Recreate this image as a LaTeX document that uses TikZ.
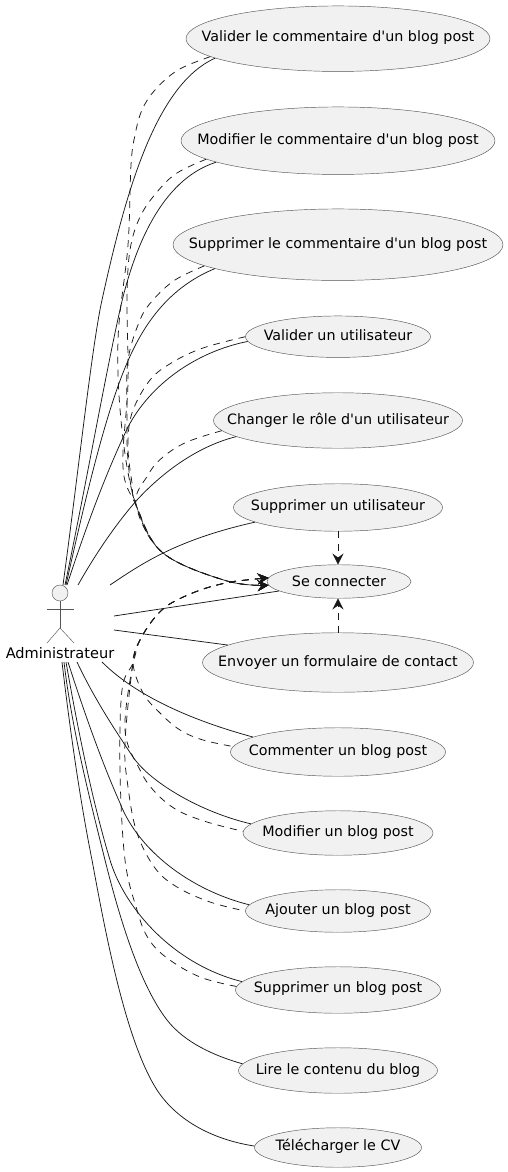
\documentclass[tikz,border=0pt]{standalone}
\usepackage{fontspec}
\newfontfamily\dv{DejaVu Sans}
\usetikzlibrary{shapes.geometric,arrows.meta}
\definecolor{ink}{HTML}{181818}
\definecolor{thin}{HTML}{555555}
\definecolor{uc}{HTML}{F1F1F1}
\tikzset{
  usecase/.style={ellipse,draw=thin,line width=.45pt,fill=uc,inner sep=0pt,font=\dv\fontsize{14.3}{16}\selectfont},
  assoc/.style={draw=ink,line width=.75pt},
  dep/.style={draw=ink,line width=.75pt,dash pattern=on 7pt off 6pt},
  inc/.style={dep,-{Stealth[length=11pt,width=11pt,inset=4pt]}},
  incback/.style={dep,{Stealth[length=11pt,width=11pt,inset=4pt]}-},
  sm/.style={smooth,tension=.6},
  stick/.style={draw=thin,line width=.45pt}
}
% #1 = distance of the baseline below the ellipse centre
\newcommand{\uctext}[2]{\smash{\raisebox{-#1pt}{\makebox[0pt][c]{#2}}}}
\begin{document}
\begin{tikzpicture}[x=1pt,y=-1pt]
\useasboundingbox (0,0) rectangle (508,1172);
\node[usecase,minimum width=304pt,minimum height=65.5pt] (vc) at (338,38.7) {\uctext{3.3}{Valider le commentaire d'un blog post}};
\node[usecase,minimum width=314pt,minimum height=67.5pt] (mc) at (338,140.7) {\uctext{3.3}{Modifier le commentaire d'un blog post}};
\node[usecase,minimum width=330pt,minimum height=71.5pt] (sc) at (338,244.7) {\uctext{3.3}{Supprimer le commentaire d'un blog post}};
\node[usecase,minimum width=185pt,minimum height=41.5pt] (vu) at (338,336.7) {\uctext{3.3}{Valider un utilisateur}};
\node[usecase,minimum width=249pt,minimum height=55.5pt] (cr) at (338,420.5) {\uctext{3.5}{Changer le rôle d'un utilisateur}};
\node[usecase,minimum width=209pt,minimum height=47.5pt] (su) at (338,507.5) {\uctext{2.5}{Supprimer un utilisateur}};
\node[usecase,minimum width=144pt,minimum height=33.5pt] (co) at (339,581.5) {\uctext{5}{Se connecter}};
\node[usecase,minimum width=271pt,minimum height=59.5pt] (ev) at (338,662.5) {\uctext{3.5}{Envoyer un formulaire de contact}};
\node[usecase,minimum width=215pt,minimum height=48.5pt] (cb) at (338,752) {\uctext{3}{Commenter un blog post}};
\node[usecase,minimum width=190pt,minimum height=44.5pt] (mb) at (338,833) {\uctext{3}{Modifier un blog post}};
\node[usecase,minimum width=185pt,minimum height=42.5pt] (ab) at (338,911) {\uctext{3}{Ajouter un blog post}};
\node[usecase,minimum width=205pt,minimum height=46.5pt] (sb) at (338,990) {\uctext{2.7}{Supprimer un blog post}};
\node[usecase,minimum width=199pt,minimum height=45.5pt] (lb) at (338,1070.5) {\uctext{3.5}{Lire le contenu du blog}};
\node[usecase,minimum width=167pt,minimum height=39.5pt] (tc) at (338,1147.5) {\uctext{3.2}{Télécharger le CV}};
% actor
\node[circle,draw=thin,line width=.45pt,fill=uc,minimum size=16pt,inner sep=0pt] (head) at (60,593) {};
\coordinate (neck) at (60,628);
\coordinate (armL) at (47,609);
\coordinate (armR) at (74,609);
\coordinate (legL) at (47,643);
\coordinate (legR) at (74,643);
\draw[stick] (head.south) -- (neck);
\draw[stick] (armL) -- (armR);
\draw[stick] (legL) -- (neck) -- (legR);
\node[font=\dv\fontsize{14.55}{16}\selectfont,inner sep=0pt] (actor) at (60,658) {\smash{\makebox[0pt][c]{Administrateur}}};
% actor-side ends
\coordinate (t1) at (63,585); \coordinate (t2) at (65,585); \coordinate (t3) at (66,585);
\coordinate (t4) at (67,585); \coordinate (t5) at (78,585); \coordinate (t6) at (110,585);
\coordinate (r1) at (114,616); \coordinate (r2) at (114,630);
\coordinate (b1) at (102,662); \coordinate (b2) at (77,662); \coordinate (b3) at (68,662);
\coordinate (b4) at (66,662); \coordinate (b5) at (64,662); \coordinate (b6) at (62,662);
% associations
\draw[assoc] (t1) .. controls (78,475) and (92,345) .. (102,300) .. controls (125,195) and (155,85) .. (vc.189.5);
\draw[assoc] (t2) .. controls (85,490) and (110,350) .. (123,297) .. controls (135,250) and (160,180) .. (mc.190.3);
\draw[assoc] (t3) .. controls (85,500) and (108,400) .. (133,350) .. controls (150,315) and (175,285) .. (sc.191.7);
\draw[assoc] (t4) .. controls (85,530) and (105,475) .. (128,427) .. controls (150,385) and (195,352) .. (vu.183.9);
\draw[assoc] (t5) .. controls (95,555) and (115,525) .. (137,500) .. controls (160,475) and (195,447) .. (cr.189.6);
\draw[assoc] (t6) .. controls (140,565) and (175,540) .. (su.190.6);
\draw[assoc] (r1) .. controls (160,609) and (220,600) .. (co.189.3);
\draw[assoc] (r2) -- (ev.171.6);
\draw[assoc] (b1) .. controls (135,695) and (190,720) .. (cb.170);
\draw[assoc] (b2) .. controls (95,700) and (115,730) .. (133,757) .. controls (150,782) and (200,812) .. (mb.174.2);
\draw[assoc] (b3) .. controls (85,715) and (103,765) .. (120,803) .. controls (138,850) and (190,890) .. (ab.176.1);
\draw[assoc] (b4) .. controls (78,730) and (92,800) .. (110,860) .. controls (125,910) and (175,965) .. (sb.175.3);
\draw[assoc] (b5) .. controls (72,730) and (90,800) .. (105,860) .. controls (120,920) and (140,985) .. (167,1020) .. controls (185,1043) and (215,1056) .. (lb.176.1);
\draw[assoc] (b6) .. controls (70,730) and (80,800) .. (92,860) .. controls (105,930) and (125,1040) .. (157,1090) .. controls (178,1122) and (215,1140) .. (tc.179.3);
% includes
\coordinate (hubT) at (136,505);
\coordinate (hubB) at (133,663);
\draw[inc] plot[sm] coordinates {(vc.188) (178,70) (155,90) (142,110) (135,135) (131,165) (128,245) (118,340) (122,430) (hubT) (163,553) (227,581) (co.183.2)};
\draw[inc] plot[sm] coordinates {(mc.188.3) (177,173) (157,192) (140,217) (130,250) (127,300) (128,383) (123,467) (hubT) (163,553) (227,581) (co.183.2)};
\draw[inc] plot[sm] coordinates {(sc.189.3) (175,280) (153,300) (140,320) (128,360) (127,410) (128,460) (hubT) (163,553) (227,581) (co.183.2)};
\draw[inc] plot[sm] coordinates {(vu.180.6) (203,348) (173,362) (150,380) (132,413) (128,447) (132,483) (hubT) (163,553) (227,581) (co.183.2)};
\draw[inc] plot[sm] coordinates {(cr.185.3) (187,442) (163,457) (148,475) (hubT) (163,553) (227,581) (co.183.2)};
\draw[incback] plot[sm] coordinates {(co.177.6) (217,585) (177,600) (157,615) (140,640) (hubB) (143,693) (160,713) (180,730) (203,740) (cb.177.9)};
\draw[incback] plot[sm] coordinates {(co.177.6) (217,585) (177,600) (157,615) (140,640) (hubB) (125,730) (140,770) (155,792) (177,810) (207,822) (mb.179.4)};
\draw[incback] plot[sm] coordinates {(co.177.6) (217,585) (177,600) (157,615) (140,640) (hubB) (125,743) (128,787) (137,833) (155,868) (177,887) (210,902) (ab.180)};
\draw[incback] plot[sm] coordinates {(co.177.6) (217,585) (177,600) (157,615) (140,640) (hubB) (122,690) (120,770) (125,860) (137,910) (148,938) (167,958) (200,977) (sb.178.3)};
\draw[inc] (su.south) -- (su.south |- co.north);
\draw[inc] (ev.north) -- (ev.north |- co.south);
\end{tikzpicture}
\end{document}
